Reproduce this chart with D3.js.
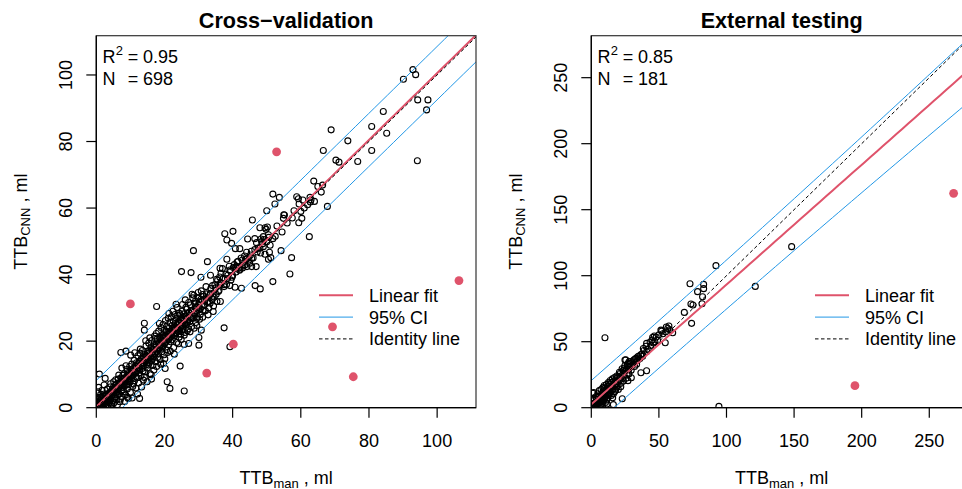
<!DOCTYPE html>
<html><head><meta charset="utf-8">
<script src="https://cdn.jsdelivr.net/npm/d3@7"></script>
<style>body{margin:0;background:#fff}svg{display:block;font-family:"Liberation Sans",Arial,Helvetica,sans-serif}</style>
</head><body><svg id="c" width="962" height="489"></svg>
<script>
// ---------- DATA ----------
const cvSparse = [[92.9,101.6],[90.1,98.7],[93.7,100.1],[94.3,92.5],[97.3,92.5],[96.9,89.5],[94.2,74.2],[84.2,89.0],[85.2,82.5],[80.8,84.5],[80.8,77.3],[76.7,74.0],[68.9,83.5],[73.8,80.2],[66.6,77.3],[70.3,74.4],[71.2,73.8],[63.8,68.1],[66.4,66.9],[67.8,60.5],[51.8,64.2],[53.7,63.2],[52.4,61.2],[58.8,63.4],[59.3,62.8],[60.6,62.4],[62.7,63.2],[62.8,61.8],[59.5,61.2],[59.4,55.6],[60.3,56.9],[62.5,51.4],[50.0,59.2],[55.2,57.9],[54.9,56.9],[45.8,56.4],[54.2,47.2],[57.3,45.1],[56.8,40.2],[51.8,37.9],[48.1,35.7],[46.6,36.7],[42.6,35.9],[37.7,52.3],[40.1,53.0],[38.3,50.4],[39.7,49.4],[40.8,47.8],[42.1,47.8],[44.4,50.7],[46.5,50.8],[48.0,54.1],[49.5,54.1],[50.2,54.3],[48.3,50.7],[49.0,51.4],[51.8,50.8],[50.0,49.9],[49.0,48.4],[50.8,46.7],[49.5,46.1],[51.2,45.1],[50.5,44.6],[48.0,47.9],[44.1,46.7],[45.6,44.9],[44.8,44.4],[43.6,42.9],[42.8,44.4],[41.3,43.8],[41.4,42.4],[40.2,42.1],[39.2,41.4],[38.3,44.6],[36.3,41.9],[36.6,40.4],[35.3,38.6],[36.3,36.9],[39.2,36.7],[40.7,36.2],[39.5,38.4],[46.9,42.4],[45.6,42.4],[44.2,42.4],[42.9,42.0],[32.6,43.9],[28.5,47.2],[25.0,40.9],[27.8,40.6],[30.7,39.2],[33.5,39.8],[36.4,31.9],[34.3,28.9],[37.5,24.0],[39.2,18.3],[30.1,18.8],[30.1,21.1],[30.8,23.3],[29.5,26.9],[24.6,12.5],[20.8,7.8],[21.6,5.8],[25.8,5.0],[12.7,2.8],[9.4,2.8],[17.7,30.4],[14.1,25.4],[14.1,23.3],[7.2,16.6],[8.7,17.0],[0.9,10.1],[2.6,8.8],[23.4,31.1],[26.1,32.4],[28.1,34.1],[31.2,34.0],[24.4,23.3],[25.8,19.0],[27.1,19.3],[20.2,11.8],[16.2,8.6],[19.7,13.3]];
const cvDense = [[0.3,1.2],[0.5,4.8],[0.6,0.2],[0.8,2.1],[1.0,0.5],[1.1,3.0],[1.2,1.4],[1.4,0.1],[1.5,2.6],[1.7,5.2],[1.8,1.0],[2.0,3.4],[2.1,0.3],[2.2,2.0],[2.4,4.1],[2.5,1.2],[2.7,2.9],[2.8,0.6],[3.0,3.8],[3.1,1.9],[3.2,5.6],[3.4,2.5],[3.5,0.9],[3.6,4.3],[3.8,3.1],[3.9,1.6],[4.0,6.2],[4.1,2.8],[4.3,4.9],[4.4,0.4],[4.5,3.6],[4.7,5.5],[4.8,2.2],[5.0,4.4],[5.1,7.8],[5.2,1.5],[5.4,5.9],[5.5,3.3],[5.6,6.8],[5.8,4.6],[5.9,2.4],[6.0,7.1],[6.1,5.3],[6.3,3.8],[6.4,8.6],[6.5,6.0],[6.7,4.1],[6.8,7.4],[6.9,1.8],[7.0,6.5],[7.2,8.9],[7.3,5.0],[7.4,3.2],[7.6,7.9],[7.7,6.1],[7.8,9.7],[8.0,4.8],[8.1,7.3],[8.2,10.2],[8.4,6.6],[8.5,8.4],[8.6,3.9],[8.8,9.1],[8.9,7.0],[9.0,11.5],[9.1,5.6],[9.3,8.2],[9.4,10.6],[9.5,6.9],[9.7,9.8],[9.8,12.4],[9.9,7.7],[10.0,4.6],[10.2,10.9],[10.3,8.8],[10.4,13.1],[10.6,9.5],[10.7,6.4],[10.8,11.8],[11.0,10.0],[11.1,14.2],[11.2,8.1],[11.4,12.3],[11.5,10.7],[11.6,5.9],[11.8,13.5],[11.9,11.2],[12.0,9.0],[12.2,15.6],[12.3,12.0],[12.4,7.4],[12.6,13.8],[12.7,11.5],[12.8,16.4],[13.0,12.9],[13.1,9.6],[13.2,14.7],[13.4,11.8],[13.5,17.2],[13.6,13.4],[13.8,8.3],[13.9,15.1],[14.0,12.6],[14.2,16.0],[14.3,10.8],[14.4,14.3],[14.6,18.6],[14.7,13.0],[14.8,15.7],[15.0,11.9],[15.1,17.0],[15.2,14.5],[15.4,19.4],[15.5,13.6],[15.6,16.5],[15.8,10.2],[15.9,15.4],[16.0,18.1],[16.2,14.0],[16.3,20.2],[16.4,16.8],[16.6,12.7],[16.7,17.6],[16.8,15.2],[17.0,19.0],[17.1,21.5],[17.2,16.1],[17.4,13.8],[17.5,18.4],[17.6,22.3],[17.8,17.0],[17.9,20.6],[18.0,15.1],[18.2,19.6],[18.3,23.0],[18.4,17.7],[18.6,21.2],[18.7,14.4],[18.8,18.9],[19.0,24.1],[19.1,20.0],[19.2,16.8],[19.4,22.0],[19.5,18.3],[19.6,25.0],[19.8,20.9],[19.9,15.9],[20.0,23.4],[20.2,19.5],[20.3,26.2],[20.4,21.7],[20.6,17.4],[20.7,24.4],[20.8,20.4],[21.0,22.8],[21.1,26.9],[21.2,18.9],[21.4,23.9],[21.5,21.1],[21.6,25.6],[21.8,19.8],[21.9,22.5],[22.0,27.3],[22.2,24.7],[22.3,20.5],[22.4,23.2],[22.6,26.0],[22.7,18.1],[22.8,24.0],[23.0,21.6],[23.1,28.0],[23.2,25.3],[23.4,22.4],[23.5,26.8],[23.6,19.6],[23.8,24.9],[23.9,27.7],[24.0,23.0],[24.2,25.8],[24.3,21.2],[24.4,28.4],[24.6,24.3],[24.7,26.5],[24.8,22.1],[25.0,27.1],[25.1,24.8],[25.2,29.0],[25.4,23.5],[25.5,26.0],[25.7,28.2],[25.9,25.1],[26.0,22.6],[26.2,27.6],[26.4,24.9],[26.6,29.6],[26.8,26.3],[27.0,23.7],[27.2,28.5],[27.4,25.8],[27.6,30.9],[27.8,27.0],[28.0,24.4],[28.2,29.3],[28.4,26.9],[28.6,33.8],[28.8,28.1],[29.0,31.2],[29.2,25.6],[29.4,30.0],[29.6,27.4],[29.8,33.1],[30.0,29.5],[30.2,31.8],[30.5,28.0],[30.7,32.6],[31.0,30.4],[31.2,27.2],[31.5,33.5],[31.8,31.0],[32.0,29.1],[32.3,34.2],[32.6,31.7],[33.0,30.0],[33.3,33.9],[33.6,35.8],[34.0,32.5],[34.4,30.6],[34.8,37.0],[35.2,34.1],[35.6,38.3],[36.0,35.2],[36.5,37.6],[37.0,41.8],[37.5,36.4],[38.0,40.1],[38.5,38.8],[39.0,42.5],[40.0,39.7],[41.0,40.8],[41.6,44.0],[42.0,41.3],[43.0,42.8],[43.5,45.6],[45.0,43.4],[46.0,45.0],[47.0,49.6],[47.5,48.0],[48.5,49.9],[49.2,50.5],[50.5,52.0],[51.0,48.8],[53.0,54.6],[55.0,58.0],[56.0,55.5],[57.5,57.0],[61.0,60.0],[63.0,62.5],[65.0,66.5],
[0.2,0.0],[0.4,2.9],[0.7,6.1],[0.9,1.3],[1.3,4.0],[1.6,0.8],[1.9,2.2],[2.3,6.8],[2.6,3.6],[2.9,1.7],[3.3,0.2],[3.7,2.0],[4.2,7.2],[4.6,1.1],[4.9,6.0],[5.3,2.9],[5.7,8.4],[6.2,0.9],[6.6,9.8],[7.1,2.6],[7.5,11.9],[7.9,5.4],[8.3,1.9],[8.7,12.6],[9.2,3.1],[9.6,8.7],[10.1,15.8],[10.5,2.9],[10.9,7.1],[11.3,16.5],[11.7,9.3],[12.1,4.1],[12.5,10.4],[12.9,17.6],[13.3,6.2],[13.7,11.0],[14.1,9.1],[14.5,20.1],[14.9,7.8],[15.3,12.8],[15.7,21.0],[16.1,9.9],[16.5,14.6],[16.9,11.3],[17.3,20.8],[17.7,12.4],[18.1,16.3],[18.5,25.3],[18.9,13.1],[19.3,17.9],[19.7,21.4],[20.1,14.7],[20.5,22.9],[20.9,16.6],[21.3,28.3],[21.7,17.0],[22.1,21.9],[22.5,29.0],[22.9,16.1],[23.3,23.7],[23.7,30.1],[24.1,19.2],[24.5,27.9],[24.9,20.5],[25.3,31.0],[25.8,21.8],[26.3,30.2],[26.7,23.1],[27.1,31.6],[27.5,22.8],[27.9,28.8],[28.3,33.0],[28.7,23.9],[29.1,32.0],[29.5,24.7],[29.9,34.6],[30.3,26.6],[30.8,35.1],[31.3,29.3],[31.7,32.3],[32.2,36.4],[32.8,27.9],[33.4,31.4],[34.1,36.7],[34.6,33.2],[35.4,31.9],[36.2,39.3],[37.3,38.9],[38.2,37.0],[39.4,41.0],[40.5,43.0],[41.8,42.0],[42.5,45.0],[44.2,44.8],[45.5,47.0],[46.5,47.5],[48.2,46.5],[49.8,53.6],[52.5,51.5],[54.5,52.8],[58.0,59.2],[60.0,59.0],[62.0,61.0],[64.0,62.0],[66.0,64.8],
[0.1,0.9],[0.4,0.3],[0.9,1.8],[1.3,0.9],[1.6,1.9],[2.0,1.5],[2.3,2.7],[2.6,2.2],[3.0,2.6],[3.3,3.4],[3.6,2.8],[4.0,4.3],[4.3,3.5],[4.6,4.9],[5.0,5.3],[5.3,4.5],[5.6,5.2],[6.0,6.3],[6.3,5.6],[6.6,6.9],[7.0,7.6],[7.3,6.6],[7.6,8.4],[8.0,7.7],[8.3,8.9],[8.6,8.0],[9.0,9.6],[9.3,8.7],[9.6,10.3],[10.0,9.4],[10.3,11.4],[10.6,10.1],[11.0,11.8],[11.3,10.6],[11.6,12.5],[12.0,11.2],[12.3,13.3],[12.6,12.1],[13.0,14.0],[13.3,12.6],[13.6,14.8],[14.0,13.5],[14.3,15.1],[14.6,14.0],[15.0,16.2],[15.3,14.9],[15.6,17.0],[16.0,15.4],[16.3,17.4],[16.6,16.1],[17.0,18.1],[17.3,16.7],[17.6,19.0],[18.0,17.5],[18.3,19.3],[18.6,18.0],[19.0,20.4],[19.3,18.7],[19.6,21.0],[20.0,19.2],[20.3,21.5],[20.6,20.0],[21.0,22.1],[21.3,20.6],[21.6,22.9],[22.0,21.4],[22.3,23.6],[22.6,22.0],[23.0,24.1],[23.3,22.6],[23.6,25.0],[24.0,23.5],[24.3,25.4],[24.6,24.0],[25.0,26.2],[25.3,24.6],[25.6,27.0],[26.0,25.5],[26.4,27.3],[26.8,25.9],[27.2,28.6],[27.6,26.8],[28.0,29.2],[28.5,27.7],[29.0,30.1],[29.5,28.9],[30.0,31.0],[30.5,29.7],[31.0,32.2],[31.6,30.8],[32.2,33.1],[32.8,31.9],[33.5,34.4],[34.2,33.5],[35.0,36.0],[35.8,34.9],[36.6,37.5],[37.5,37.0],[38.6,39.8],[39.8,39.2],[41.0,42.2],[42.2,41.6],[43.8,44.5],[45.2,45.9],[47.2,46.8],[48.8,49.3],[50.6,51.2]];
const cvOutliers = [[10.0,31.2],[52.9,76.9],[106.4,38.2],[69.3,24.3],[40.2,19.1],[32.4,10.4],[75.4,9.3]];

const extPointsList = [[92.2,107.6],[73.0,93.9],[83.1,93.4],[83.1,90.2],[78.6,87.9],[82.3,84.1],[81.9,78.8],[73.7,78.5],[75.2,77.8],[68.8,72.2],[74.2,63.9],[121.3,91.9],[148.2,122.0],[10.1,53.0],[94.4,1.0],[60.2,56.8],[57.4,61.9],[55.5,61.1],[54.7,49.2],[51.5,58.8],[46.6,54.3],[45.4,53.3],[40.9,48.7],[38.5,44.9],[36.7,26.5],[40.9,28.0],[29.6,22.7],[27.1,20.5],[34.3,38.6],[32.3,36.6],[24.9,36.1],[27.9,34.8],[22.9,6.8],[16.3,2.3],[1.0,10.9],
[0.5,1.0],[1.0,3.2],[1.5,0.4],[2.0,5.5],[2.5,2.1],[3.0,4.0],[3.2,0.8],[3.8,6.6],[4.0,2.9],[4.5,4.8],[5.0,1.5],[5.2,7.8],[5.6,3.6],[6.0,5.9],[6.3,9.0],[6.8,4.4],[7.0,7.1],[7.4,2.3],[7.8,10.2],[8.0,6.0],[8.4,8.5],[8.8,12.0],[9.0,4.9],[9.4,9.8],[9.8,7.3],[10.0,14.8],[10.3,11.0],[10.7,8.6],[11.0,13.3],[11.4,5.8],[11.8,10.4],[12.0,16.0],[12.4,12.5],[12.8,9.4],[13.1,14.6],[13.5,17.8],[13.8,11.7],[14.2,15.5],[14.6,13.0],[15.0,19.2],[15.4,16.4],[15.8,7.5],[16.2,14.3],[16.6,20.0],[17.0,17.2],[17.4,12.2],[17.8,21.0],[18.2,18.4],[18.6,15.7],[19.0,22.6],[19.5,19.6],[20.0,13.8],[20.5,23.5],[21.0,21.0],[21.5,26.0],[22.0,18.5],[22.5,24.3],[23.0,22.1],[23.5,28.2],[24.0,25.0],[24.5,30.1],[25.0,27.5],[25.5,36.2],[26.0,29.0],[26.5,24.8],[27.0,31.5],[27.5,28.7],[28.0,33.6],[28.5,30.4],[29.0,35.0],[30.0,32.0],[31.0,34.8],[32.0,31.3],[33.0,37.4],[34.0,35.6],[35.0,39.0],[36.0,37.2],[37.5,40.6],[39.0,43.3],[40.5,46.5],[42.0,44.2],[43.5,49.8],[44.0,47.1],[45.0,51.2],[47.0,50.0],[48.0,53.5],[50.0,55.2],[52.0,58.0],[53.0,56.0],[56.5,60.0],[58.0,59.1],
[0.8,6.2],[1.2,1.8],[1.8,11.4],[2.2,3.5],[2.8,1.2],[3.4,8.3],[4.2,0.3],[4.8,10.6],[5.4,5.1],[5.9,12.9],[6.5,1.0],[7.2,13.8],[7.6,5.4],[8.2,3.3],[8.6,15.2],[9.2,6.8],[9.6,16.8],[10.5,4.0],[11.2,17.5],[11.6,2.8],[12.2,7.7],[12.6,19.0],[13.4,10.5],[14.0,20.6],[14.8,9.2],[15.6,21.8],[16.4,10.6],[17.2,22.9],[18.0,13.4],[18.8,24.0],[19.8,16.8],[20.8,26.9],[21.8,15.9],[22.8,29.5],[23.8,20.2],[24.8,31.8],[25.8,22.3],[26.8,33.0],[27.8,25.6],[29.5,28.3],[31.5,36.3],[33.5,33.0],[36.5,40.0],[38.0,39.0],[41.0,42.5],[46.0,49.0],[49.0,51.0],[55.0,57.5],
[3.5,3.9],[6.5,6.8],[9.5,10.4],[12.5,13.6],[15.5,16.8],[18.5,19.9],[21.5,22.8]];
const extOutliers = [[195.0,16.7],[268.0,162.4]];

const cvTicks = [0, 20, 40, 60, 80, 100];
const extTicks = [0, 50, 100, 150, 200, 250];
const cvFit = [0.25, 1.003];       // intercept, slope
const extFit = [2.6, 0.907];
const cvBand = [63, 0.0002, 18];   // variance terms a, b, x-mean of 95% band
const extBand = [321.4, 0.0041, 25];
const titles = ["Cross\u2212validation", "External testing"];
const r2Values = ["0.95", "0.85"];
const nValues = ["698", "181"];
const legendLabels = ["Linear fit", "95% CI", "Identity line"];

// ---------- DRAW ----------
const RED = "#DF536B", BLUE = "#2297E6";
const svg = d3.select("#c");
const panels = [
  {x0: 96.3, x1: 476, xmax: 111.4, ymax: 111.8, ticks: cvTicks, pts: cvSparse.concat(cvDense), out: cvOutliers, fit: cvFit, band: cvBand, i: 0},
  {x0: 591.3, x1: 972, xmax: 281.6, ymax: 281.8, ticks: extTicks, pts: extPointsList, out: extOutliers, fit: extFit, band: extBand, i: 1}
];
const Y0 = 35.7, Y1 = 407.7;

panels.forEach(p => {
  const x = d3.scaleLinear().domain([0, p.xmax]).range([p.x0, p.x1]);
  const y = d3.scaleLinear().domain([0, p.ymax]).range([Y1, Y0]);
  const g = svg.append("g");
  const cid = "clip" + p.i;
  svg.append("clipPath").attr("id", cid).append("rect")
    .attr("x", p.x0).attr("y", Y0).attr("width", p.x1 - p.x0).attr("height", Y1 - Y0);
  const pg = g.append("g").attr("clip-path", `url(#${cid})`);

  pg.selectAll("circle.p").data(p.pts).join("circle").attr("class", "p")
    .attr("cx", d => x(d[0])).attr("cy", d => y(d[1])).attr("r", 3)
    .attr("fill", "none").attr("stroke", "#000").attr("stroke-width", 1.1);
  pg.selectAll("circle.o").data(p.out).join("circle").attr("class", "o")
    .attr("cx", d => x(d[0])).attr("cy", d => y(d[1])).attr("r", 4.4)
    .attr("fill", RED);

  const xs = d3.range(0, 61).map(k => k * p.xmax / 60);
  const fitF = v => p.fit[0] + p.fit[1] * v;
  const hw = v => Math.sqrt(p.band[0] + p.band[1] * (v - p.band[2]) ** 2);
  const line = d3.line().x(d => x(d[0])).y(d => y(d[1]));
  pg.append("path").attr("d", line(xs.map(v => [v, fitF(v)])))
    .attr("fill", "none").attr("stroke", RED).attr("stroke-width", 2);
  [1, -1].forEach(s => {
    pg.append("path").attr("d", line(xs.map(v => [v, fitF(v) + s * hw(v)])))
      .attr("fill", "none").attr("stroke", BLUE).attr("stroke-width", 1);
  });
  pg.append("path").attr("d", line([[0, 0], [p.xmax, p.xmax]]))
    .attr("fill", "none").attr("stroke", "#000").attr("stroke-width", 1).attr("stroke-dasharray", "3.5,2.5");

  g.append("rect").attr("x", p.x0).attr("y", Y0).attr("width", p.x1 - p.x0).attr("height", Y1 - Y0)
    .attr("fill", "none").attr("stroke", "#333").attr("stroke-width", 1.2);

  g.append("line").attr("x1", x(0)).attr("x2", x(p.xmax)).attr("y1", Y1).attr("y2", Y1).attr("stroke", "#000").attr("stroke-width", 1.3);
  g.append("line").attr("x1", p.x0).attr("x2", p.x0).attr("y1", y(0)).attr("y2", y(p.ymax)).attr("stroke", "#000").attr("stroke-width", 1.3);
  p.ticks.forEach(t => {
    g.append("line").attr("x1", x(t)).attr("x2", x(t)).attr("y1", Y1).attr("y2", Y1 + 10).attr("stroke", "#000").attr("stroke-width", 1.2);
    g.append("text").attr("x", x(t)).attr("y", 446.7).attr("text-anchor", "middle").attr("font-size", 18).text(t);
    g.append("line").attr("x1", p.x0 - 10).attr("x2", p.x0).attr("y1", y(t)).attr("y2", y(t)).attr("stroke", "#000").attr("stroke-width", 1.2);
    g.append("text").attr("transform", `translate(${p.x0 - 24.6},${y(t)}) rotate(-90)`)
      .attr("text-anchor", "middle").attr("font-size", 18).text(t);
  });

  const cx = (p.x0 + p.x1) / 2, cy = (Y0 + Y1) / 2;
  const xl = g.append("text").attr("x", cx).attr("y", 484).attr("text-anchor", "middle").attr("font-size", 18);
  xl.append("tspan").text("TTB");
  xl.append("tspan").attr("font-size", 13).attr("dy", 3.5).text("man");
  xl.append("tspan").attr("dy", -3.5).text(" , ml");
  const yl = g.append("text").attr("transform", `translate(${p.x0 - 69.6},${cy}) rotate(-90)`)
    .attr("text-anchor", "middle").attr("font-size", 18);
  yl.append("tspan").text("TTB");
  yl.append("tspan").attr("font-size", 13).attr("dy", 3.5).text("CNN");
  yl.append("tspan").attr("dy", -3.5).text(" , ml");

  g.append("text").attr("x", cx).attr("y", 28).attr("text-anchor", "middle")
    .attr("font-size", 21.6).attr("font-weight", "bold").text(titles[p.i]);

  const sx = p.x0 + 6.2;
  g.append("text").attr("x", sx).attr("y", 63.3).attr("font-size", 18).text("R");
  g.append("text").attr("x", sx + 13.2).attr("y", 54.5).attr("font-size", 13).text("2");
  g.append("text").attr("x", sx + 25.2).attr("y", 63.3).attr("font-size", 18).text("=");
  g.append("text").attr("x", sx + 40.4).attr("y", 63.3).attr("font-size", 18).text(r2Values[p.i]);
  g.append("text").attr("x", sx).attr("y", 84.5).attr("font-size", 18).text("N");
  g.append("text").attr("x", sx + 25.2).attr("y", 84.5).attr("font-size", 18).text("=");
  g.append("text").attr("x", sx + 40.4).attr("y", 84.5).attr("font-size", 18).text(nValues[p.i]);

  const lx = p.x1 - 157;
  const styles = [{c: RED, w: 2, d: null}, {c: BLUE, w: 1, d: null}, {c: "#000", w: 1, d: "3.5,2.5"}];
  legendLabels.forEach((lab, k) => {
    const ly = 295.3 + k * 21.8;
    g.append("line").attr("x1", lx).attr("x2", lx + 34).attr("y1", ly).attr("y2", ly)
      .attr("stroke", styles[k].c).attr("stroke-width", styles[k].w).attr("stroke-dasharray", styles[k].d);
    g.append("text").attr("x", lx + 50).attr("y", ly + 6.4).attr("font-size", 18).text(lab);
  });
});
</script></body></html>
